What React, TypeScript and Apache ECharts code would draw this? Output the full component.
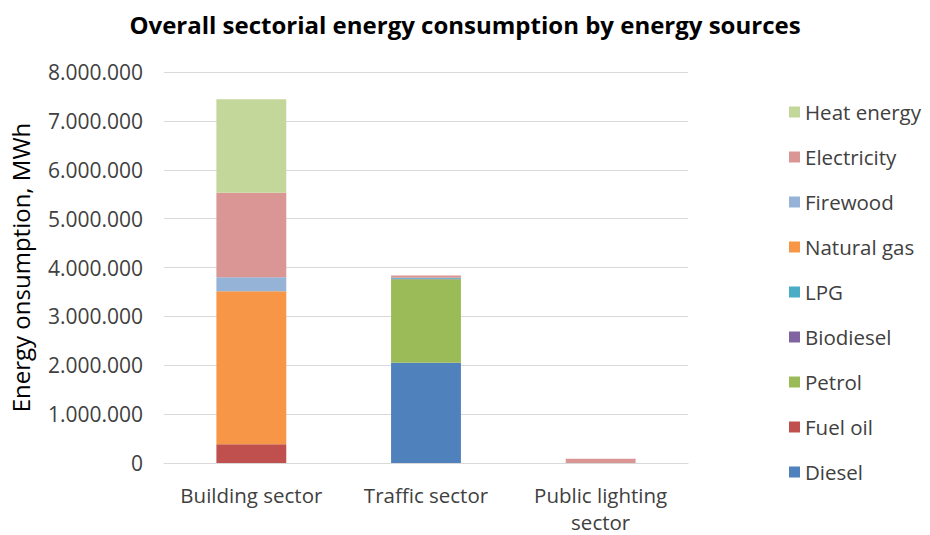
import React, { useEffect, useRef } from "react";
import * as echarts from "echarts";

const categories = ["Building sector", "Traffic sector", "Public lighting\nsector"];
const seriesNames = ["Diesel", "Fuel oil", "Petrol", "Biodiesel", "LPG", "Natural gas", "Firewood", "Electricity", "Heat energy"];
const seriesColors = ["#4F81BD", "#C0504D", "#9BBB59", "#8064A2", "#4BACC6", "#F79646", "#95B3D7", "#DA9694", "#C4D79B"];
const diesel = [0, 2050000, 0];
const fuelOil = [385000, 0, 0];
const petrol = [0, 1710000, 0];
const biodiesel = [0, 10000, 0];
const lpg = [0, 20000, 0];
const naturalGas = [3130000, 0, 0];
const firewood = [285000, 0, 0];
const electricity = [1730000, 45000, 85000];
const heatEnergy = [1910000, 0, 0];
const legendOrder = ["Heat energy", "Electricity", "Firewood", "Natural gas", "LPG", "Biodiesel", "Petrol", "Fuel oil", "Diesel"];

const seriesValues = [diesel, fuelOil, petrol, biodiesel, lpg, naturalGas, firewood, electricity, heatEnergy];

const fmt = (v: number) => String(v).replace(/\B(?=(\d{3})+(?!\d))/g, ".");

export default function App() {
  const ref = useRef<HTMLDivElement>(null);
  useEffect(() => {
    document.body.style.margin = "0";
    if (!ref.current) return;
    const chart = echarts.init(ref.current, undefined, { renderer: "svg" });
    const font = "'Open Sans', sans-serif";
    chart.setOption({
      animation: false,
      backgroundColor: "#ffffff",
      title: {
        text: "Overall sectorial energy consumption by energy sources",
        left: "center",
        top: 7,
        textStyle: { fontFamily: font, fontSize: 24, fontWeight: "bold", color: "#000000" },
      },
      legend: {
        orient: "vertical",
        left: 784,
        top: 95,
        data: legendOrder,
        itemWidth: 11,
        itemHeight: 11,
        itemGap: 21,
        icon: "rect",
        textStyle: { fontFamily: font, fontSize: 20.5, color: "#404040", lineHeight: 24 },
      },
      grid: { left: 163, right: 242, top: 72, bottom: 72, containLabel: false },
      xAxis: {
        type: "category",
        data: categories,
        axisLine: { lineStyle: { color: "#d9d9d9", width: 1 } },
        axisTick: { show: false },
        axisLabel: { fontFamily: font, fontSize: 20.5, color: "#404040", margin: 18, lineHeight: 27, interval: 0 },
      },
      yAxis: {
        type: "value",
        min: 0,
        max: 8000000,
        interval: 1000000,
        name: "Energy onsumption, MWh",
        nameLocation: "middle",
        nameGap: 132,
        nameTextStyle: { fontFamily: font, fontSize: 24, color: "#000000" },
        axisLabel: { fontFamily: font, fontSize: 21, color: "#404040", margin: 21, formatter: (v: number) => fmt(v) },
        splitLine: { lineStyle: { color: "#d9d9d9", width: 1 } },
        axisLine: { show: false },
        axisTick: { show: false },
      },
      series: seriesNames.map((name, i) => ({
        name,
        type: "bar",
        stack: "total",
        barWidth: "40%",
        data: seriesValues[i],
        itemStyle: { color: seriesColors[i] },
      })),
    });
    return () => chart.dispose();
  }, []);
  return <div ref={ref} style={{ width: 930, height: 535 }} />;
}
